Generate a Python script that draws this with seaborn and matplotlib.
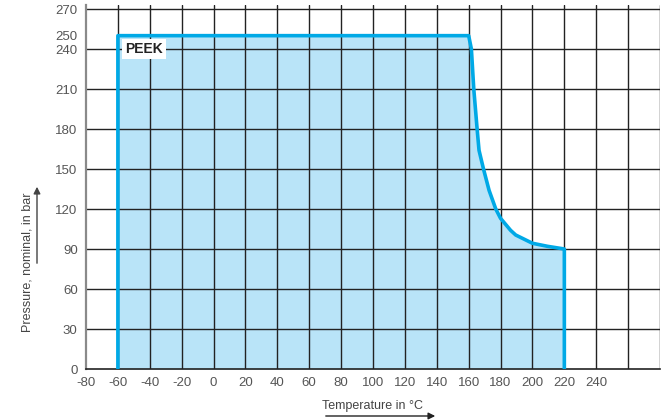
import matplotlib
matplotlib.use("Agg")
import matplotlib.pyplot as plt
import seaborn as sns
import pandas as pd

# outline of the PEEK pressure/temperature curve
temp = [-60, -60, 160, 161.7, 163.2, 165.3, 166.5, 169.3, 172.8, 177, 180,
        186.3, 189.5, 200, 209.5, 220, 220]
pressure = [0, 250, 250, 240, 210, 180, 164, 150, 134, 120, 113,
            104, 100.5, 94.3, 92, 90, 0]

x_ticks = list(range(-80, 281, 20))
x_labels = [str(v) if v <= 240 else "" for v in x_ticks]
y_ticks = [0, 30, 60, 90, 120, 150, 180, 210, 240, 250, 270]
y_grid = [0, 30, 60, 90, 120, 150, 180, 210, 240, 270]

df = pd.DataFrame({"temp": temp, "pressure": pressure})

sns.set_style("white")
plt.rcParams["font.family"] = ["Liberation Sans", "DejaVu Sans"]

fig = plt.figure(figsize=(6.71, 4.2), dpi=100)
ax = fig.add_axes([86 / 671, 51 / 420, 574 / 671, 364 / 420])

# Fläche unter der Kurve
ax.fill_between(df["temp"], df["pressure"], color="#b9e4f8", zorder=1, lw=0)

# Gitter
for v in x_ticks[1:]:
    ax.axvline(v, color="#222222", lw=1, zorder=2)
for v in y_grid[1:]:
    ax.axhline(v, color="#222222", lw=1, zorder=2)

sns.lineplot(data=df, x="temp", y="pressure", sort=False, estimator=None,
             color="#00a9e6", lw=2.6, ax=ax, zorder=3)

ax.text(-55.5, 240, "PEEK", fontsize=10, fontweight="bold", color="#222222",
        va="center", ha="left", zorder=4,
        bbox=dict(facecolor="white", edgecolor="none", pad=2.5))

ax.set_xlim(-80, 280)
ax.set_ylim(0, 273)
ax.set_xticks(x_ticks)
ax.set_xticklabels(x_labels)
ax.set_yticks(y_ticks)
ax.tick_params(axis="x", direction="out", length=4, width=1, color="#222222",
               labelsize=9.5, labelcolor="#555555", pad=2)
ax.tick_params(axis="y", direction="inout", length=8, width=1, color="#222222",
               labelsize=9.5, labelcolor="#555555", pad=2)
ax.set_xlabel("")
ax.set_ylabel("")

for s in ["top", "right"]:
    ax.spines[s].set_visible(False)
ax.spines["bottom"].set_color("#222222")
ax.spines["bottom"].set_linewidth(1.2)
ax.spines["left"].set_color("#8a8a8a")
ax.spines["left"].set_linewidth(1.6)

# Achsenbeschriftungen mit Pfeilen
fig.text(372 / 671, 1 - 406 / 420, "Temperature in \u00b0C", fontsize=9,
         color="#444444", ha="center", va="center")
fig.add_artist(matplotlib.patches.FancyArrowPatch(
    (323 / 671, 1 - 416 / 420), (438 / 671, 1 - 416 / 420),
    transform=fig.transFigure, arrowstyle="-|>", mutation_scale=10,
    color="#222222", lw=1))

fig.text(28 / 671, 1 - 262 / 420, "Pressure, nominal, in bar", fontsize=9,
         color="#444444", ha="center", va="center", rotation=90)
fig.add_artist(matplotlib.patches.FancyArrowPatch(
    (37 / 671, 1 - 266 / 420), (37 / 671, 1 - 184 / 420),
    transform=fig.transFigure, arrowstyle="-|>", mutation_scale=10,
    color="#444444", lw=1))

fig.savefig("out.png", dpi=100)
